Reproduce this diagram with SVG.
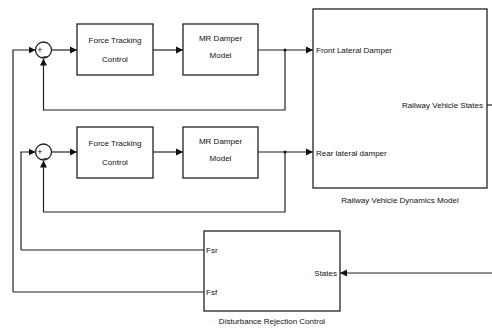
<svg xmlns="http://www.w3.org/2000/svg" width="492" height="329" viewBox="0 0 492 329">
<style>
.b{fill:#fff;stroke:#222;stroke-width:1.3}
.l{fill:none;stroke:#222;stroke-width:1.2}
text{font-family:"Liberation Sans",Arial,sans-serif;font-size:8px;fill:#111}
.c{text-anchor:middle}
.r{text-anchor:end}
.s{font-size:9px}
</style>
<defs>
<marker id="a" markerWidth="8" markerHeight="8" refX="7" refY="4" orient="auto" markerUnits="userSpaceOnUse">
<path d="M0,0.5 L7,4 L0,7.5 Z" fill="#111"/>
</marker>
</defs>
<rect width="492" height="329" fill="#fff"/>
<g id="connectors">
<path class="l" d="M13,292 L13,50 L35.5,50" marker-end="url(#a)"/>
<path class="l" d="M21,250 L21,152 L35.5,152" marker-end="url(#a)"/>
<path class="l" d="M51,50 L77,50" marker-end="url(#a)"/>
<path class="l" d="M51,152 L77,152" marker-end="url(#a)"/>
<path class="l" d="M153,50 L183,50" marker-end="url(#a)"/>
<path class="l" d="M153,152 L183,152" marker-end="url(#a)"/>
<path class="l" d="M258,50 L313,50" marker-end="url(#a)"/>
<path class="l" d="M258,152 L313,152" marker-end="url(#a)"/>
<path class="l" d="M285,50 L285,110 L43.5,110 L43.5,58.5" marker-end="url(#a)"/>
<path class="l" d="M285,152 L285,212 L43.5,212 L43.5,160.5" marker-end="url(#a)"/>
<circle cx="285" cy="50" r="1.5" fill="#111"/>
<circle cx="285" cy="152" r="1.5" fill="#111"/>
<path class="l" d="M13,292 L204,292"/>
<path class="l" d="M21,250 L204,250"/>
<path class="l" d="M487,105 L492,105"/>
<path class="l" d="M492,273 L340,273" marker-end="url(#a)"/>
</g>
<g id="sum1">
<circle cx="43.5" cy="50" r="8" class="b"/>
<text x="40" y="53" class="c s">+</text>
<text x="45.5" y="55" class="c s">_</text>
</g>
<g id="sum2">
<circle cx="43.5" cy="152" r="8" class="b"/>
<text x="40" y="155" class="c s">+</text>
<text x="45.5" y="157" class="c s">_</text>
</g>
<g id="ftc1">
<rect x="77" y="24" width="76" height="51" class="b"/>
<text x="115" y="43" class="c">Force Tracking</text>
<text x="115" y="62" class="c">Control</text>
</g>
<g id="mr1">
<rect x="183" y="24" width="75" height="51" class="b"/>
<text x="220.5" y="41" class="c">MR Damper</text>
<text x="220.5" y="58" class="c">Model</text>
</g>
<g id="ftc2">
<rect x="77" y="127" width="76" height="51" class="b"/>
<text x="115" y="146" class="c">Force Tracking</text>
<text x="115" y="165" class="c">Control</text>
</g>
<g id="mr2">
<rect x="183" y="127" width="75" height="51" class="b"/>
<text x="220.5" y="144" class="c">MR Damper</text>
<text x="220.5" y="161" class="c">Model</text>
</g>
<g id="dynamics">
<rect x="313" y="9" width="174" height="179" class="b"/>
<text x="316" y="52.5">Front Lateral Damper</text>
<text x="316" y="155.5">Rear lateral damper</text>
<text x="483" y="107.5" class="r">Railway Vehicle States</text>
<text x="400" y="203" class="c">Railway Vehicle Dynamics Model</text>
</g>
<g id="drc">
<rect x="204" y="231" width="136" height="80" class="b"/>
<text x="206" y="252.5">Fsr</text>
<text x="206" y="294.5">Fsf</text>
<text x="337" y="275.5" class="r">States</text>
<text x="272" y="324" class="c">Disturbance Rejection Control</text>
</g>
</svg>
